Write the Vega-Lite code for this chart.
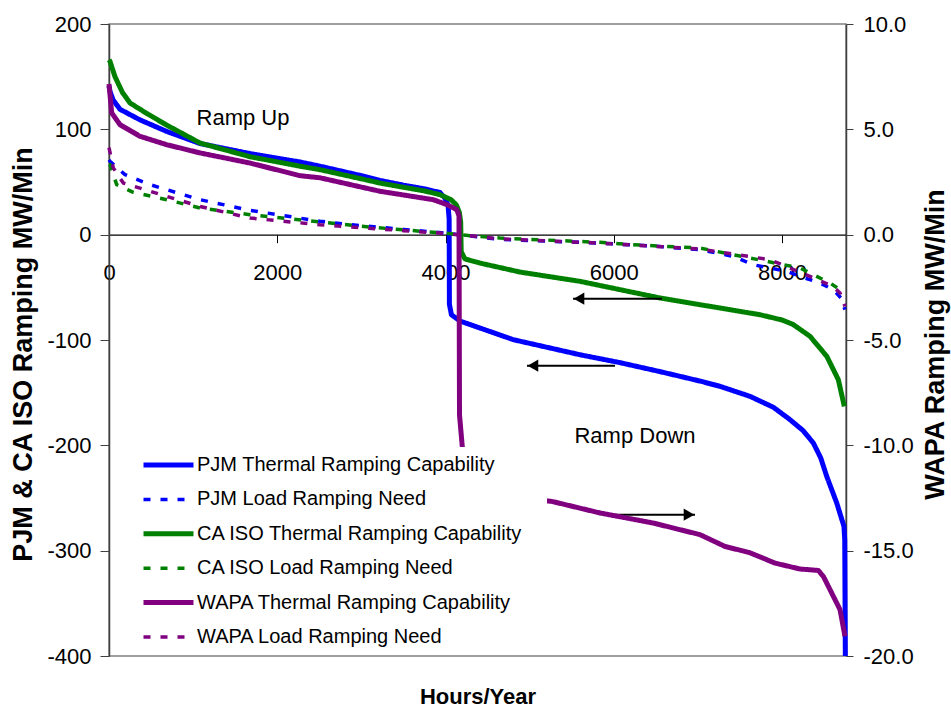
{
  "$schema": "https://vega.github.io/schema/vega-lite/v6.json",
  "width": 737,
  "height": 632,
  "autosize": {"type": "none"},
  "padding": {"left": 109, "top": 24, "right": 105, "bottom": 55},
  "background": "white",
  "config": {
    "font": "Liberation Sans",
    "view": {"stroke": "#808080", "strokeWidth": 1.5},
    "axis": {"grid": false, "labelFont": "Liberation Sans", "titleFont": "Liberation Sans", "labelColor": "black", "titleColor": "black"}
  },
  "datasets": {
    "lines": [
      {"series": "PJM Thermal Ramping Capability", "hour": 0, "v": 141},
      {"series": "PJM Thermal Ramping Capability", "hour": 12, "v": 136},
      {"series": "PJM Thermal Ramping Capability", "hour": 48, "v": 128},
      {"series": "PJM Thermal Ramping Capability", "hour": 131, "v": 119},
      {"series": "PJM Thermal Ramping Capability", "hour": 368, "v": 109},
      {"series": "PJM Thermal Ramping Capability", "hour": 686, "v": 98},
      {"series": "PJM Thermal Ramping Capability", "hour": 1082, "v": 86.5},
      {"series": "PJM Thermal Ramping Capability", "hour": 1676, "v": 77},
      {"series": "PJM Thermal Ramping Capability", "hour": 2270, "v": 69},
      {"series": "PJM Thermal Ramping Capability", "hour": 2508, "v": 65},
      {"series": "PJM Thermal Ramping Capability", "hour": 3000, "v": 56},
      {"series": "PJM Thermal Ramping Capability", "hour": 3221, "v": 51.5},
      {"series": "PJM Thermal Ramping Capability", "hour": 3500, "v": 47},
      {"series": "PJM Thermal Ramping Capability", "hour": 3750, "v": 43.5},
      {"series": "PJM Thermal Ramping Capability", "hour": 3934, "v": 40},
      {"series": "PJM Thermal Ramping Capability", "hour": 3990, "v": 35},
      {"series": "PJM Thermal Ramping Capability", "hour": 4030, "v": 28},
      {"series": "PJM Thermal Ramping Capability", "hour": 4043, "v": 15},
      {"series": "PJM Thermal Ramping Capability", "hour": 4046, "v": -66},
      {"series": "PJM Thermal Ramping Capability", "hour": 4070, "v": -76},
      {"series": "PJM Thermal Ramping Capability", "hour": 4172, "v": -82},
      {"series": "PJM Thermal Ramping Capability", "hour": 4806, "v": -99.7},
      {"series": "PJM Thermal Ramping Capability", "hour": 5598, "v": -114},
      {"series": "PJM Thermal Ramping Capability", "hour": 6074, "v": -121.5},
      {"series": "PJM Thermal Ramping Capability", "hour": 6549, "v": -130},
      {"series": "PJM Thermal Ramping Capability", "hour": 7025, "v": -139},
      {"series": "PJM Thermal Ramping Capability", "hour": 7263, "v": -144},
      {"series": "PJM Thermal Ramping Capability", "hour": 7619, "v": -153.5},
      {"series": "PJM Thermal Ramping Capability", "hour": 7900, "v": -164},
      {"series": "PJM Thermal Ramping Capability", "hour": 8094, "v": -175.6},
      {"series": "PJM Thermal Ramping Capability", "hour": 8250, "v": -186},
      {"series": "PJM Thermal Ramping Capability", "hour": 8372, "v": -197.8},
      {"series": "PJM Thermal Ramping Capability", "hour": 8460, "v": -212},
      {"series": "PJM Thermal Ramping Capability", "hour": 8531, "v": -229.5},
      {"series": "PJM Thermal Ramping Capability", "hour": 8649, "v": -254.5},
      {"series": "PJM Thermal Ramping Capability", "hour": 8736, "v": -277},
      {"series": "PJM Thermal Ramping Capability", "hour": 8745, "v": -290},
      {"series": "PJM Thermal Ramping Capability", "hour": 8752, "v": -400},

      {"series": "PJM Load Ramping Need", "hour": 0, "v": 71},
      {"series": "PJM Load Ramping Need", "hour": 12, "v": 69.6},
      {"series": "PJM Load Ramping Need", "hour": 190, "v": 57},
      {"series": "PJM Load Ramping Need", "hour": 487, "v": 47.5},
      {"series": "PJM Load Ramping Need", "hour": 1082, "v": 33.2},
      {"series": "PJM Load Ramping Need", "hour": 1676, "v": 23.1},
      {"series": "PJM Load Ramping Need", "hour": 2508, "v": 12.7},
      {"series": "PJM Load Ramping Need", "hour": 3000, "v": 8.5},
      {"series": "PJM Load Ramping Need", "hour": 3500, "v": 5},
      {"series": "PJM Load Ramping Need", "hour": 4000, "v": 1.5},
      {"series": "PJM Load Ramping Need", "hour": 4150, "v": 0},
      {"series": "PJM Load Ramping Need", "hour": 4647, "v": -4.5},
      {"series": "PJM Load Ramping Need", "hour": 5836, "v": -8},
      {"series": "PJM Load Ramping Need", "hour": 6500, "v": -11},
      {"series": "PJM Load Ramping Need", "hour": 7025, "v": -14.2},
      {"series": "PJM Load Ramping Need", "hour": 7421, "v": -20.6},
      {"series": "PJM Load Ramping Need", "hour": 7655, "v": -28.5},
      {"series": "PJM Load Ramping Need", "hour": 8054, "v": -34.8},
      {"series": "PJM Load Ramping Need", "hour": 8213, "v": -39.6},
      {"series": "PJM Load Ramping Need", "hour": 8451, "v": -45.9},
      {"series": "PJM Load Ramping Need", "hour": 8609, "v": -52.2},
      {"series": "PJM Load Ramping Need", "hour": 8700, "v": -60},
      {"series": "PJM Load Ramping Need", "hour": 8748, "v": -71.2},

      {"series": "CA ISO Thermal Ramping Capability", "hour": 0, "v": 166},
      {"series": "CA ISO Thermal Ramping Capability", "hour": 12, "v": 164.5},
      {"series": "CA ISO Thermal Ramping Capability", "hour": 71, "v": 150},
      {"series": "CA ISO Thermal Ramping Capability", "hour": 160, "v": 135},
      {"series": "CA ISO Thermal Ramping Capability", "hour": 250, "v": 125},
      {"series": "CA ISO Thermal Ramping Capability", "hour": 450, "v": 115},
      {"series": "CA ISO Thermal Ramping Capability", "hour": 686, "v": 104},
      {"series": "CA ISO Thermal Ramping Capability", "hour": 1082, "v": 87},
      {"series": "CA ISO Thermal Ramping Capability", "hour": 1676, "v": 74},
      {"series": "CA ISO Thermal Ramping Capability", "hour": 2270, "v": 65},
      {"series": "CA ISO Thermal Ramping Capability", "hour": 2508, "v": 61.7},
      {"series": "CA ISO Thermal Ramping Capability", "hour": 3000, "v": 53},
      {"series": "CA ISO Thermal Ramping Capability", "hour": 3221, "v": 49},
      {"series": "CA ISO Thermal Ramping Capability", "hour": 3500, "v": 45},
      {"series": "CA ISO Thermal Ramping Capability", "hour": 3750, "v": 41.5},
      {"series": "CA ISO Thermal Ramping Capability", "hour": 3934, "v": 38},
      {"series": "CA ISO Thermal Ramping Capability", "hour": 4070, "v": 33},
      {"series": "CA ISO Thermal Ramping Capability", "hour": 4130, "v": 28},
      {"series": "CA ISO Thermal Ramping Capability", "hour": 4165, "v": 21},
      {"series": "CA ISO Thermal Ramping Capability", "hour": 4180, "v": 12},
      {"series": "CA ISO Thermal Ramping Capability", "hour": 4186, "v": -16},
      {"series": "CA ISO Thermal Ramping Capability", "hour": 4230, "v": -23},
      {"series": "CA ISO Thermal Ramping Capability", "hour": 4411, "v": -27},
      {"series": "CA ISO Thermal Ramping Capability", "hour": 4885, "v": -35.5},
      {"series": "CA ISO Thermal Ramping Capability", "hour": 5598, "v": -44.3},
      {"series": "CA ISO Thermal Ramping Capability", "hour": 6549, "v": -60.1},
      {"series": "CA ISO Thermal Ramping Capability", "hour": 7025, "v": -66.5},
      {"series": "CA ISO Thermal Ramping Capability", "hour": 7263, "v": -69.6},
      {"series": "CA ISO Thermal Ramping Capability", "hour": 7738, "v": -76},
      {"series": "CA ISO Thermal Ramping Capability", "hour": 8000, "v": -81},
      {"series": "CA ISO Thermal Ramping Capability", "hour": 8134, "v": -85.4},
      {"series": "CA ISO Thermal Ramping Capability", "hour": 8332, "v": -96.5},
      {"series": "CA ISO Thermal Ramping Capability", "hour": 8531, "v": -115.4},
      {"series": "CA ISO Thermal Ramping Capability", "hour": 8669, "v": -137.7},
      {"series": "CA ISO Thermal Ramping Capability", "hour": 8740, "v": -163},

      {"series": "CA ISO Load Ramping Need", "hour": 0, "v": 67},
      {"series": "CA ISO Load Ramping Need", "hour": 12, "v": 66.5},
      {"series": "CA ISO Load Ramping Need", "hour": 91, "v": 47.5},
      {"series": "CA ISO Load Ramping Need", "hour": 289, "v": 40.2},
      {"series": "CA ISO Load Ramping Need", "hour": 686, "v": 33.2},
      {"series": "CA ISO Load Ramping Need", "hour": 1082, "v": 25.3},
      {"series": "CA ISO Load Ramping Need", "hour": 1676, "v": 19},
      {"series": "CA ISO Load Ramping Need", "hour": 2508, "v": 12},
      {"series": "CA ISO Load Ramping Need", "hour": 3000, "v": 8},
      {"series": "CA ISO Load Ramping Need", "hour": 3500, "v": 4.5},
      {"series": "CA ISO Load Ramping Need", "hour": 4000, "v": 1.5},
      {"series": "CA ISO Load Ramping Need", "hour": 4150, "v": 0},
      {"series": "CA ISO Load Ramping Need", "hour": 4647, "v": -3.2},
      {"series": "CA ISO Load Ramping Need", "hour": 5836, "v": -7.3},
      {"series": "CA ISO Load Ramping Need", "hour": 6228, "v": -9.5},
      {"series": "CA ISO Load Ramping Need", "hour": 7025, "v": -12.7},
      {"series": "CA ISO Load Ramping Need", "hour": 7619, "v": -22.2},
      {"series": "CA ISO Load Ramping Need", "hour": 8213, "v": -31.6},
      {"series": "CA ISO Load Ramping Need", "hour": 8570, "v": -45.9},
      {"series": "CA ISO Load Ramping Need", "hour": 8748, "v": -55.4},

      {"series": "WAPA Thermal Ramping Capability", "hour": 0, "v": 7.15},
      {"series": "WAPA Thermal Ramping Capability", "hour": 32, "v": 5.78},
      {"series": "WAPA Thermal Ramping Capability", "hour": 131, "v": 5.22},
      {"series": "WAPA Thermal Ramping Capability", "hour": 368, "v": 4.67},
      {"series": "WAPA Thermal Ramping Capability", "hour": 686, "v": 4.27},
      {"series": "WAPA Thermal Ramping Capability", "hour": 1082, "v": 3.88},
      {"series": "WAPA Thermal Ramping Capability", "hour": 1676, "v": 3.4},
      {"series": "WAPA Thermal Ramping Capability", "hour": 2270, "v": 2.8},
      {"series": "WAPA Thermal Ramping Capability", "hour": 2508, "v": 2.7},
      {"series": "WAPA Thermal Ramping Capability", "hour": 3221, "v": 2.06},
      {"series": "WAPA Thermal Ramping Capability", "hour": 3855, "v": 1.66},
      {"series": "WAPA Thermal Ramping Capability", "hour": 4013, "v": 1.43},
      {"series": "WAPA Thermal Ramping Capability", "hour": 4133, "v": 1.19},
      {"series": "WAPA Thermal Ramping Capability", "hour": 4160, "v": 0.9},
      {"series": "WAPA Thermal Ramping Capability", "hour": 4166, "v": -8.55},
      {"series": "WAPA Thermal Ramping Capability", "hour": 4200, "v": -10.1},
      {"series": "WAPA Thermal Ramping Capability", "hour": 4240, "v": -11.8},
      {"series": "WAPA Thermal Ramping Capability", "hour": 4600, "v": -12.3},
      {"series": "WAPA Thermal Ramping Capability", "hour": 5000, "v": -12.55},
      {"series": "WAPA Thermal Ramping Capability", "hour": 5262, "v": -12.66},
      {"series": "WAPA Thermal Ramping Capability", "hour": 5836, "v": -13.21},
      {"series": "WAPA Thermal Ramping Capability", "hour": 6470, "v": -13.69},
      {"series": "WAPA Thermal Ramping Capability", "hour": 7025, "v": -14.24},
      {"series": "WAPA Thermal Ramping Capability", "hour": 7322, "v": -14.8},
      {"series": "WAPA Thermal Ramping Capability", "hour": 7619, "v": -15.1},
      {"series": "WAPA Thermal Ramping Capability", "hour": 7916, "v": -15.59},
      {"series": "WAPA Thermal Ramping Capability", "hour": 8213, "v": -15.87},
      {"series": "WAPA Thermal Ramping Capability", "hour": 8431, "v": -15.94},
      {"series": "WAPA Thermal Ramping Capability", "hour": 8491, "v": -16.22},
      {"series": "WAPA Thermal Ramping Capability", "hour": 8570, "v": -16.85},
      {"series": "WAPA Thermal Ramping Capability", "hour": 8689, "v": -17.8},
      {"series": "WAPA Thermal Ramping Capability", "hour": 8748, "v": -19.07},

      {"series": "WAPA Load Ramping Need", "hour": 0, "v": 4.13},
      {"series": "WAPA Load Ramping Need", "hour": 51, "v": 3.17},
      {"series": "WAPA Load Ramping Need", "hour": 170, "v": 2.45},
      {"series": "WAPA Load Ramping Need", "hour": 487, "v": 2.06},
      {"series": "WAPA Load Ramping Need", "hour": 1082, "v": 1.34},
      {"series": "WAPA Load Ramping Need", "hour": 1676, "v": 0.79},
      {"series": "WAPA Load Ramping Need", "hour": 2508, "v": 0.47},
      {"series": "WAPA Load Ramping Need", "hour": 3000, "v": 0.33},
      {"series": "WAPA Load Ramping Need", "hour": 3500, "v": 0.19},
      {"series": "WAPA Load Ramping Need", "hour": 4000, "v": 0.06},
      {"series": "WAPA Load Ramping Need", "hour": 4150, "v": 0},
      {"series": "WAPA Load Ramping Need", "hour": 4647, "v": -0.2},
      {"series": "WAPA Load Ramping Need", "hour": 5836, "v": -0.4},
      {"series": "WAPA Load Ramping Need", "hour": 7025, "v": -0.68},
      {"series": "WAPA Load Ramping Need", "hour": 7857, "v": -1.19},
      {"series": "WAPA Load Ramping Need", "hour": 8332, "v": -1.98},
      {"series": "WAPA Load Ramping Need", "hour": 8605, "v": -2.46},
      {"series": "WAPA Load Ramping Need", "hour": 8689, "v": -2.77},
      {"series": "WAPA Load Ramping Need", "hour": 8748, "v": -3.4}
    ],
    "arrows": [
      {"hour": 5515, "hour2": 6573, "v": -60.8, "dir": "left"},
      {"hour": 4968, "hour2": 6014, "v": -124.4, "dir": "left"},
      {"hour": 6965, "hour2": 5860, "v": -265.8, "dir": "right"}
    ],
    "notes": [
      {"hour": 1593, "v": 111, "label": "Ramp Up"},
      {"hour": 6252, "v": -190.8, "label": "Ramp Down"}
    ]
  },
  "encoding": {
    "x": {
      "field": "hour", "type": "quantitative",
      "scale": {"domain": [0, 8760], "nice": false, "zero": false},
      "axis": {
        "values": [0, 2000, 4000, 6000, 8000], "format": "d",
        "offset": -421.33, "tickSize": 8, "labelPadding": 20, "labelFontSize": 22,
        "labelOverlap": false, "labelFlush": false,
        "domainColor": "black", "tickColor": "black", "domainWidth": 1.2,
        "title": "Hours/Year", "titleFontSize": 22, "titleFontWeight": "bold",
        "titleY": 462, "titleBaseline": "middle"
      }
    }
  },
  "layer": [
    {
      "encoding": {
        "y": {
          "field": "v", "type": "quantitative",
          "scale": {"domain": [-400, 200], "nice": false, "zero": false},
          "axis": {
            "values": [-400, -300, -200, -100, 0, 100, 200],
            "labelExpr": "replace(datum.label, '\u2212', '-')",
            "labelFontSize": 22, "tickSize": 9, "labelPadding": 9,
            "domainColor": "#404040", "tickColor": "#404040", "domainWidth": 1.5,
            "title": "PJM & CA ISO Ramping MW/Min", "titleFontSize": 27, "titleFontWeight": "bold",
            "titleX": -86, "titleY": 330, "titleBaseline": "middle", "titleAngle": 270
          }
        }
      },
      "layer": [
        {
          "data": {"name": "lines"},
          "transform": [{"filter": "indexof(datum.series, 'WAPA') < 0"}],
          "mark": {"type": "line", "strokeJoin": "round"},
          "encoding": {
            "color": {
              "field": "series", "type": "nominal",
              "scale": {
                "domain": ["PJM Thermal Ramping Capability", "PJM Load Ramping Need", "CA ISO Thermal Ramping Capability", "CA ISO Load Ramping Need", "WAPA Thermal Ramping Capability", "WAPA Load Ramping Need"],
                "range": ["#0000ff", "#0000ff", "#008000", "#008000", "#800080", "#800080"]
              },
              "legend": {
                "orient": "none", "legendX": 24, "legendY": 423, "fillColor": "white", "padding": 8,
                "symbolType": "stroke", "symbolSize": 2500, "symbolStrokeWidth": 4.5, "clipHeight": 20, "rowPadding": 14.4,
                "labelFontSize": 20, "labelFont": "Liberation Sans", "labelColor": "black", "labelOffset": 1, "labelLimit": 0,
                "title": " ", "titleOrient": "right", "titlePadding": 16
              }
            },
            "strokeDash": {
              "field": "series", "type": "nominal",
              "scale": {
                "domain": ["PJM Thermal Ramping Capability", "PJM Load Ramping Need", "CA ISO Thermal Ramping Capability", "CA ISO Load Ramping Need", "WAPA Thermal Ramping Capability", "WAPA Load Ramping Need"],
                "range": [[1, 0], [7, 10], [1, 0], [7, 10], [1, 0], [7, 10]]
              },
              "legend": {
                "orient": "none", "legendX": 24, "legendY": 423, "fillColor": "white", "padding": 8,
                "symbolType": "stroke", "symbolSize": 2500, "symbolStrokeWidth": 4.5, "clipHeight": 20, "rowPadding": 14.4,
                "labelFontSize": 20, "labelFont": "Liberation Sans", "labelColor": "black", "labelOffset": 1, "labelLimit": 0,
                "title": " ", "titleOrient": "right", "titlePadding": 16
              }
            },
            "strokeWidth": {
              "field": "series", "type": "nominal",
              "scale": {
                "type": "ordinal",
                "domain": ["PJM Thermal Ramping Capability", "PJM Load Ramping Need", "CA ISO Thermal Ramping Capability", "CA ISO Load Ramping Need", "WAPA Thermal Ramping Capability", "WAPA Load Ramping Need"],
                "range": [5, 3.5, 5, 3.5, 5, 3.5]
              },
              "legend": null
            }
          }
        },
        {
          "data": {"name": "arrows"},
          "mark": {"type": "rule", "color": "black", "strokeWidth": 2},
          "encoding": {"x2": {"field": "hour2"}}
        },
        {
          "data": {"name": "arrows"},
          "transform": [{"filter": "datum.dir == 'left'"}],
          "mark": {"type": "point", "shape": "triangle-left", "filled": true, "color": "black", "opacity": 1, "size": 150, "xOffset": 6}
        },
        {
          "data": {"name": "arrows"},
          "transform": [{"filter": "datum.dir == 'right'"}],
          "mark": {"type": "point", "shape": "triangle-right", "filled": true, "color": "black", "opacity": 1, "size": 150, "xOffset": -6}
        },
        {
          "data": {"name": "notes"},
          "mark": {"type": "text", "fontSize": 22, "font": "Liberation Sans", "color": "black", "align": "center", "baseline": "middle"},
          "encoding": {"text": {"field": "label"}}
        }
      ]
    },
    {
      "data": {"name": "lines"},
      "transform": [{"filter": "indexof(datum.series, 'WAPA') >= 0"}],
      "mark": {"type": "line", "strokeJoin": "round"},
      "encoding": {
        "y": {
          "field": "v", "type": "quantitative",
          "scale": {"domain": [-20, 10], "nice": false, "zero": false},
          "axis": {
            "orient": "right",
            "values": [-20, -15, -10, -5, 0, 5, 10], "format": ".1f",
            "labelExpr": "replace(datum.label, '\u2212', '-')",
            "labelFontSize": 22, "tickSize": 7, "labelPadding": 10,
            "domainColor": "#404040", "tickColor": "#404040", "domainWidth": 1.5,
            "title": "WAPA Ramping MW/Min", "titleFontSize": 27, "titleFontWeight": "bold",
            "titleX": 89, "titleY": 320, "titleBaseline": "middle", "titleAngle": 270
          }
        },
        "color": {"field": "series", "type": "nominal"},
        "strokeDash": {"field": "series", "type": "nominal"},
        "strokeWidth": {
          "field": "series", "type": "nominal",
          "scale": {
            "type": "ordinal",
            "domain": ["PJM Thermal Ramping Capability", "PJM Load Ramping Need", "CA ISO Thermal Ramping Capability", "CA ISO Load Ramping Need", "WAPA Thermal Ramping Capability", "WAPA Load Ramping Need"],
            "range": [5, 3.5, 5, 3.5, 5, 3.5]
          },
          "legend": null
        }
      }
    }
  ],
  "resolve": {"scale": {"y": "independent"}}
}
